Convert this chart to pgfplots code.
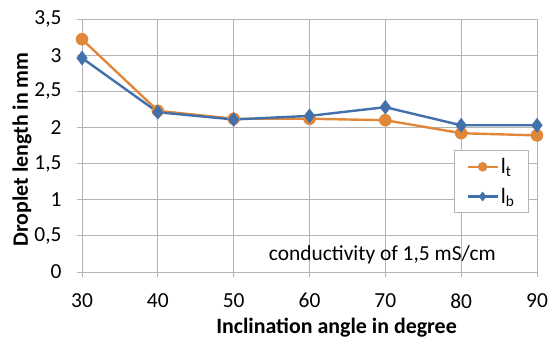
\documentclass[border=0pt]{standalone}
\usepackage{pgfplots}
\pgfplotsset{compat=1.18}
\usepackage{fontspec}
\setmainfont{Carlito}
\definecolor{cor}{RGB}{224,135,58}
\definecolor{cbl}{RGB}{66,112,170}
\definecolor{cgr}{RGB}{180,180,180}
\begin{document}
\begin{tikzpicture}
\useasboundingbox (-82bp,-66bp) rectangle (469bp,272bp);
\begin{axis}[
  at={(0,0)}, anchor=south west,
  scale only axis, width=455bp, height=253bp,
  xmin=30, xmax=90, ymin=0, ymax=3.5,
  xtick={30,40,...,90}, ytick={0,0.5,...,3.5},
  /pgf/number format/use comma,
  /pgf/number format/assume math mode=true,
  grid=major, major grid style={cgr, line width=0.8bp},
  axis line style={cgr, line width=0.8bp},
  tick style={cgr, line width=0.8bp},
  tick align=outside, major tick length=5bp,
  xtick pos=bottom, ytick pos=left,
  ticklabel style={font=\fontsize{21.5}{23}\selectfont},
  xticklabel style={yshift=-13bp},
  yticklabel style={xshift=-12bp},
  xlabel={\bfseries Inclination angle in degree},
  ylabel={\bfseries Droplet length in mm},
  label style={font=\fontsize{22}{24}\selectfont},
  xlabel style={at={(rel axis cs:0.5,0)}, anchor=center, yshift=-56bp, xshift=27bp},
  ylabel style={at={(rel axis cs:0,0.5)}, anchor=center, yshift=60bp, xshift=-4bp},
  legend style={at={(rel axis cs:0.982,0.482)}, anchor=north east, draw=cgr, line width=0.8bp,
    font=\fontsize{22}{24}\selectfont, row sep=9bp, inner xsep=12bp, inner ysep=6bp},
  legend cell align=left,
  legend image code/.code={\draw[#1, mark size=4.5bp, mark repeat=2, mark phase=2] plot coordinates {(0bp,0bp) (15bp,0bp) (30bp,0bp)};},
]
\addplot[cor, line width=2.4bp, mark=*, mark size=6bp, mark options={fill=cor, draw=cor, line width=0.5bp}]
 coordinates {(30,3.22) (40,2.23) (50,2.12) (60,2.12) (70,2.10) (80,1.92) (90,1.89)};
\addlegendentry[xshift=-4bp]{l\textsubscript{t}}
\addplot[cbl, line width=2.4bp, mark=diamond*, mark size=7bp, mark options={fill=cbl, draw=cbl, line width=0.5bp}]
 coordinates {(30,2.96) (40,2.21) (50,2.11) (60,2.16) (70,2.28) (80,2.03) (90,2.03)};
\addlegendentry[xshift=-4bp]{l\textsubscript{b}}
\node[font=\fontsize{21.5}{23}\selectfont] at (axis cs:69.6,0.235) {conductivity of 1,5 mS/cm};
\end{axis}
\end{tikzpicture}
\end{document}
